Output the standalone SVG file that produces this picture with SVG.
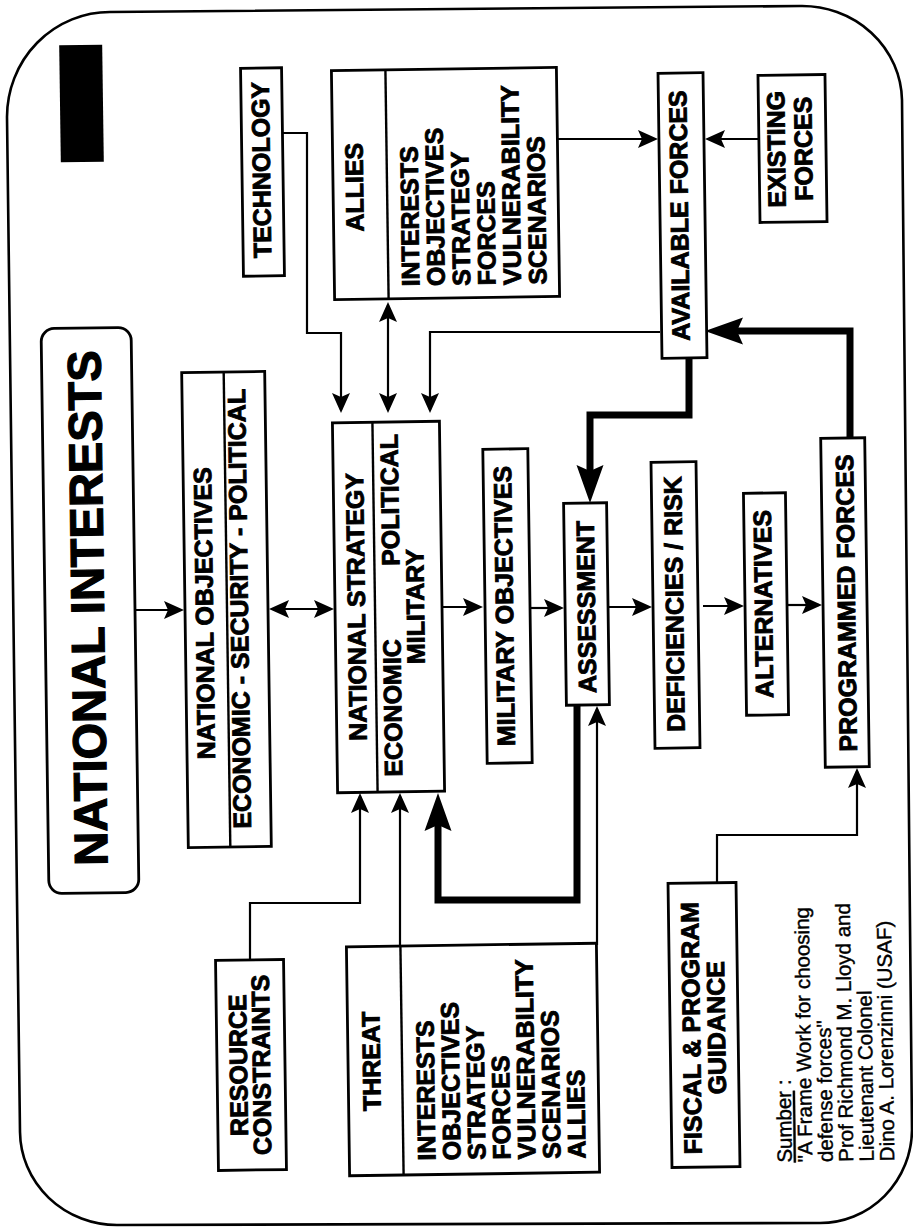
<svg xmlns="http://www.w3.org/2000/svg" width="913" height="1228" viewBox="0 0 913 1228">
<style>
.b{fill:#fff;stroke:#000;stroke-width:2.8}
.d{fill:none;stroke:#000;stroke-width:2.4}
.t{font-family:"Liberation Sans",Arial,Helvetica,sans-serif;font-weight:bold;font-size:25px;fill:#000;stroke:#000;stroke-width:0.9}
.s{font-family:"Liberation Sans",Arial,Helvetica,sans-serif;font-size:20.5px;fill:#000;stroke:#000;stroke-width:0.4}
.c{fill:none;stroke:#000;stroke-width:2.2}
.k{fill:none;stroke:#000;stroke-width:7;stroke-linejoin:miter}
</style>
<defs>
<marker id="a" markerUnits="userSpaceOnUse" markerWidth="22" markerHeight="20" refX="17" refY="9" orient="auto-start-reverse"><path d="M0,0 L20,9 L0,18 L4,9 Z" fill="#000"/></marker>
<marker id="A" markerUnits="userSpaceOnUse" markerWidth="40" markerHeight="30" refX="26" refY="14" orient="auto"><path d="M0,0.5 L38,14 L0,27.5 L6,14 Z" fill="#000"/></marker>
</defs>
<rect width="913" height="1228" fill="#fff"/>
<path id="frame" d="M110,12 L800,6 A100,96 0 0 1 902,100 L912,1130 A92,94 0 0 1 820,1223 L117,1225 A97,94 0 0 1 20,1132 L7,117 A103,105 0 0 1 110,12 Z" fill="none" stroke="#000" stroke-width="2.6"/>
<g id="label-block" transform="rotate(-0.8 81.5 103.5)"><rect x="60" y="45" width="43" height="117" fill="#000"/></g>

<g id="connectors">
<path class="c" d="M283,133 H307 V333 H341 V410" marker-end="url(#a)"/>
<path class="c" d="M388,305 V410" marker-start="url(#a)" marker-end="url(#a)"/>
<path class="c" d="M660,332 H430 V410" marker-end="url(#a)"/>
<path class="c" d="M558,139 H655" marker-end="url(#a)"/>
<path class="c" d="M759,139 H708" marker-end="url(#a)"/>
<path class="c" d="M135,610 H181" marker-end="url(#a)"/>
<path class="c" d="M272,609 H331" marker-start="url(#a)" marker-end="url(#a)"/>
<path class="c" d="M443,607 H480" marker-end="url(#a)"/>
<path class="c" d="M530,608 H561" marker-end="url(#a)"/>
<path class="c" d="M609,607 H649" marker-end="url(#a)"/>
<path class="c" d="M703,606 H741" marker-end="url(#a)"/>
<path class="c" d="M788,605 H819" marker-end="url(#a)"/>
<path class="c" d="M717,883 V835 H857 V771" marker-end="url(#a)"/>
<path class="c" d="M250,960 V903 H360 V796" marker-end="url(#a)"/>
<path class="c" d="M400,945 V796" marker-end="url(#a)"/>
<path class="c" d="M597,945 V709" marker-end="url(#a)"/>
<path class="k" d="M689,358 V415 H590 V491" marker-end="url(#A)"/>
<path class="k" d="M577,705 V900 H438 V805" marker-end="url(#A)"/>
<path class="k" d="M850,438 V331 H717" marker-end="url(#A)"/>
</g>

<g id="national-interests" transform="rotate(-0.8 90 610.5)">
<rect x="45" y="328" width="90" height="565" rx="13" class="b"/>
<text class="t" style="font-size:47px;stroke-width:1.2" transform="translate(104,608) rotate(-90)" text-anchor="middle">NATIONAL INTERESTS</text>
</g>

<g id="national-objectives" transform="rotate(-0.8 226.5 609.5)">
<rect x="185" y="372" width="83" height="475" class="b"/>
<line x1="227" y1="372" x2="227" y2="847" class="d"/>
<text class="t" transform="translate(213,613) rotate(-90)" text-anchor="middle">NATIONAL OBJECTIVES</text>
<text class="t" transform="translate(248,609) rotate(-90)" text-anchor="middle">ECONOMIC - SECURITY - POLITICAL</text>
</g>

<g id="technology" transform="rotate(-0.8 262.5 172)">
<rect x="242" y="68" width="41" height="208" class="b"/>
<text class="t" transform="translate(270,170) rotate(-90)" text-anchor="middle">TECHNOLOGY</text>
</g>

<g id="allies" transform="rotate(-0.8 445.5 183.5)">
<rect x="333" y="69" width="225" height="229" class="b"/>
<line x1="387" y1="69" x2="387" y2="298" class="d"/>
<text class="t" transform="translate(363,186) rotate(-90)" text-anchor="middle">ALLIES</text>
<text class="t" transform="translate(418,286) rotate(-90)"><tspan x="0" y="0">INTERESTS</tspan><tspan x="0" dy="25.4">OBJECTIVES</tspan><tspan x="0" dy="25.4">STRATEGY</tspan><tspan x="0" dy="25.4">FORCES</tspan><tspan x="0" dy="25.4">VULNERABILITY</tspan><tspan x="0" dy="25.4">SCENARIOS</tspan></text>
</g>

<g id="available-forces" transform="rotate(-0.8 682.5 215.5)">
<rect x="660" y="73" width="45" height="285" class="b"/>
<text class="t" transform="translate(688,215.5) rotate(-90)" text-anchor="middle">AVAILABLE FORCES</text>
</g>

<g id="existing-forces" transform="rotate(-0.8 792.5 148.5)">
<rect x="759" y="75" width="67" height="147" class="b"/>
<text class="t" transform="translate(785,149) rotate(-90)" text-anchor="middle"><tspan x="0" y="0">EXISTING</tspan><tspan x="0" dy="27">FORCES</tspan></text>
</g>

<g id="national-strategy" transform="rotate(-0.8 388.5 607)">
<rect x="335" y="422" width="107" height="370" class="b"/>
<line x1="375" y1="422" x2="375" y2="792" class="d"/>
<text class="t" transform="translate(365,606.5) rotate(-90)" text-anchor="middle">NATIONAL STRATEGY</text>
<text class="t" transform="translate(400,708) rotate(-90)" text-anchor="middle">ECONOMIC</text>
<text class="t" transform="translate(400,500) rotate(-90)" text-anchor="middle">POLITICAL</text>
<text class="t" transform="translate(424,607) rotate(-90)" text-anchor="middle">MILITARY</text>
</g>

<g id="military-objectives" transform="rotate(-0.8 507.5 606)">
<rect x="485" y="449" width="45" height="314" class="b"/>
<text class="t" transform="translate(513,606) rotate(-90)" text-anchor="middle">MILITARY OBJECTIVES</text>
</g>

<g id="assessment" transform="rotate(-0.8 586.5 604)">
<rect x="565" y="503" width="43" height="202" class="b"/>
<text class="t" transform="translate(595,607) rotate(-90)" text-anchor="middle">ASSESSMENT</text>
</g>

<g id="deficiencies-risk" transform="rotate(-0.8 675.5 605)">
<rect x="653" y="462" width="45" height="286" class="b"/>
<text class="t" transform="translate(683,604) rotate(-90)" text-anchor="middle">DEFICIENCIES / RISK</text>
</g>

<g id="alternatives" transform="rotate(-0.8 766 604)">
<rect x="745" y="493" width="42" height="222" class="b"/>
<text class="t" transform="translate(772,604) rotate(-90)" text-anchor="middle">ALTERNATIVES</text>
</g>

<g id="programmed-forces" transform="rotate(-0.8 845 602.5)">
<rect x="823" y="438" width="44" height="329" class="b"/>
<text class="t" transform="translate(855,603) rotate(-90)" text-anchor="middle">PROGRAMMED FORCES</text>
</g>

<g id="resource-constraints" transform="rotate(-0.8 251 1065)">
<rect x="217" y="960" width="68" height="210" class="b"/>
<text class="t" transform="translate(247,1065) rotate(-90)" text-anchor="middle"><tspan x="0" y="0">RESOURCE</tspan><tspan x="0" dy="23">CONSTRAINTS</tspan></text>
</g>

<g id="threat" transform="rotate(-0.8 473 1059.5)">
<rect x="348" y="945" width="250" height="229" class="b"/>
<line x1="402" y1="945" x2="402" y2="1174" class="d"/>
<text class="t" transform="translate(380,1060) rotate(-90)" text-anchor="middle">THREAT</text>
<text class="t" transform="translate(434,1160) rotate(-90)"><tspan x="0" y="0">INTERESTS</tspan><tspan x="0" dy="25">OBJECTIVES</tspan><tspan x="0" dy="25">STRATEGY</tspan><tspan x="0" dy="25">FORCES</tspan><tspan x="0" dy="25">VULNERABILITY</tspan><tspan x="0" dy="25">SCENARIOS</tspan><tspan x="0" dy="25">ALLIES</tspan></text>
</g>

<g id="fiscal-program-guidance" transform="rotate(-0.8 704 1025)">
<rect x="670" y="883" width="68" height="284" class="b"/>
<text class="t" transform="translate(700,1028) rotate(-90)" text-anchor="middle"><tspan x="0" y="0">FISCAL &amp; PROGRAM</tspan><tspan x="0" dy="25">GUIDANCE</tspan></text>
</g>

<g id="source-note" transform="rotate(-0.8 833 1030)">
<text class="s" transform="translate(790,1162) rotate(-90)"><tspan x="0" y="0" text-decoration="underline">Sumber</tspan><tspan> :</tspan><tspan x="0" dy="20.5">"A Frame Work for choosing</tspan><tspan x="0" dy="20.5">defense forces"</tspan><tspan x="0" dy="20.5">Prof Richmond M. Lloyd and</tspan><tspan x="0" dy="20.5">Lieutenant Colonel</tspan><tspan x="0" dy="20.5">Dino A. Lorenzinni (USAF)</tspan></text>
</g>
</svg>
